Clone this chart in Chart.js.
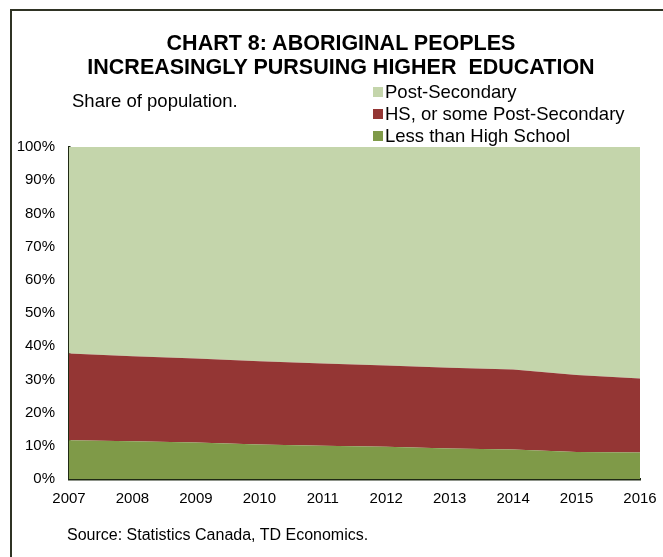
<!DOCTYPE html>
<html>
<head>
<meta charset="utf-8">
<script src="https://cdn.jsdelivr.net/npm/chart.js@4/dist/chart.umd.min.js"></script>
<style>
  html, body { margin:0; padding:0; background:#fff; }
  body { width:663px; height:557px; position:relative; overflow:hidden; font-family:"Liberation Sans", Arial, sans-serif; color:#000; }
  #frame { position:absolute; left:10px; top:9px; width:720px; height:620px; border:2px solid #2f3324; box-sizing:border-box; }
  #wrap { position:absolute; left:0; top:0; width:663px; height:557px; }
  .t { position:absolute; white-space:nowrap; }
  #title { left:0; width:682px; top:31px; text-align:center; font-weight:bold; font-size:21.5px; line-height:24px; }
  #sub { left:72px; top:90px; font-size:18.5px; }
  .leg { position:absolute; left:373px; font-size:18.5px; line-height:22px; white-space:nowrap; }
  .leg span { display:inline-block; width:10px; height:10px; margin-right:2px; vertical-align:1px; }
  #src { left:67px; top:526px; font-size:16px; }
</style>
</head>
<body>
<div id="frame"></div>
<div id="wrap"><canvas id="c" width="663" height="557"></canvas></div>
<div class="t" id="title">CHART 8: ABORIGINAL PEOPLES<br>INCREASINGLY PURSUING HIGHER&nbsp; EDUCATION</div>
<div class="t" id="sub">Share of population.</div>
<div id="legend"></div>
<div class="t" id="src">Source: Statistics Canada, TD Economics.</div>
<script>
const years = ['2007','2008','2009','2010','2011','2012','2013','2014','2015','2016'];
const lessThanHS = [11.7, 11.4, 11.0, 10.4, 10.0, 9.7, 9.2, 8.9, 8.1, 8.0];
const hsSomePS   = [26.1, 25.6, 25.3, 25.1, 24.8, 24.5, 24.3, 24.1, 23.2, 22.3];
const postSec    = [62.2, 63.0, 63.7, 64.5, 65.2, 65.8, 66.5, 67.0, 68.7, 69.7];
const seriesNames = ['Less than High School', 'HS, or some Post-Secondary', 'Post-Secondary'];
const seriesColors = ['#7f9a48', '#943634', '#c4d5ab'];
const yTicks = [0,10,20,30,40,50,60,70,80,90,100];

// legend (reverse order as in reference)
const legendEl = document.getElementById('legend');
[2,1,0].forEach((i, k) => {
  const d = document.createElement('div');
  d.className = 'leg';
  d.style.top = (81 + k*22) + 'px';
  d.innerHTML = '<span style="background:' + seriesColors[i] + '"></span>' + seriesNames[i];
  legendEl.appendChild(d);
});

const datasets = [lessThanHS, hsSomePS, postSec].map((vals, i) => ({
  label: seriesNames[i],
  data: vals,
  backgroundColor: seriesColors[i],
  borderColor: seriesColors[i],
  borderWidth: 0,
  pointRadius: 0,
  tension: 0,
  fill: i === 0 ? 'origin' : '-1'
}));

new Chart(document.getElementById('c'), {
  type: 'line',
  data: { labels: years, datasets },
  options: {
    responsive: false,
    animation: false,
    devicePixelRatio: 1,
    layout: { padding: { top: 147, right: 23, bottom: 0, left: 0 } },
    plugins: { legend: { display: false }, tooltip: { enabled: false } },
    scales: {
      x: {
        stacked: true,
        offset: false,
        grid: { display: true, color: 'rgba(0,0,0,0)', drawTicks: false },
        border: { display: true, color: '#1f2a14', width: 2.5 },
        ticks: { color: '#000', font: { family: 'Liberation Sans', size: 15 }, padding: 11, maxRotation: 0, autoSkip: false },
        afterFit: s => { s.height = 78; s.paddingRight = 0; s.paddingLeft = 0; }
      },
      y: {
        stacked: true,
        min: 0, max: 100,
        afterBuildTicks: s => { s.ticks = yTicks.map(v => ({ value: v })); },
        grid: { display: true, color: 'rgba(0,0,0,0)', drawTicks: false },
        border: { display: true, color: '#1f2a14', width: 2.5 },
        ticks: { color: '#000', font: { family: 'Liberation Sans', size: 15 }, padding: 14, callback: v => v + '%' },
        afterFit: s => { s.width = 69; s.paddingTop = 0; s.paddingBottom = 0; }
      }
    }
  }
});
</script>
</body>
</html>
